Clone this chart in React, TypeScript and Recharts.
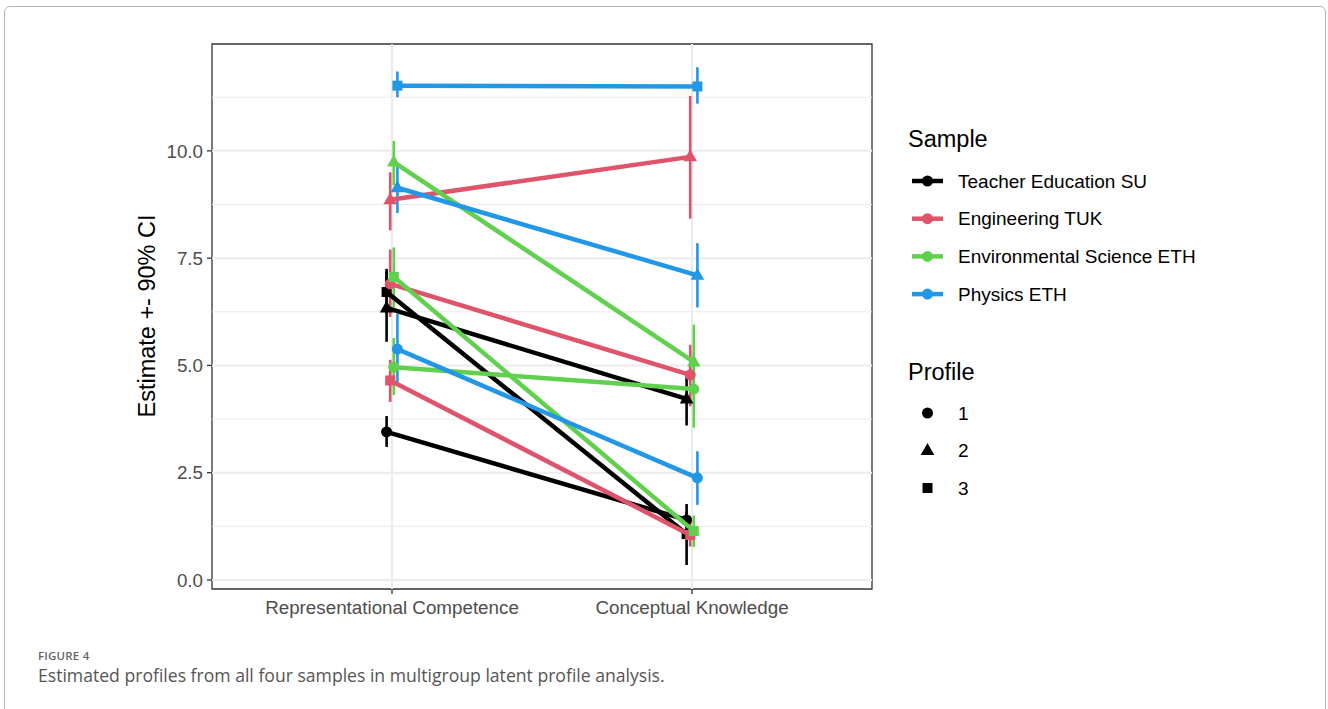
import React from 'react'
import { ComposedChart, Scatter, ErrorBar, XAxis, YAxis, ReferenceLine, ReferenceArea } from 'recharts'

// categories on the x axis, samples (colour) and profiles (shape)
const categories = ['Representational Competence', 'Conceptual Knowledge']
const sampleNames = ['Teacher Education SU', 'Engineering TUK', 'Environmental Science ETH', 'Physics ETH']
const profileLabels = ['1', '2', '3']
const yTicks = [0, 2.5, 5, 7.5, 10]
const yMinor = [1.25, 3.75, 6.25, 8.75, 11.25]

// rows = profile 1..3, columns = [Representational Competence, Conceptual Knowledge]
const teacherEst = [[3.45, 1.4], [6.34, 4.22], [6.71, 1.07]]
const teacherLow = [[3.1, 1.0], [5.55, 3.6], [6.2, 0.35]]
const teacherHigh = [[3.82, 1.77], [7.25, 4.85], [7.2, 1.6]]

const engineeringEst = [[6.9, 4.78], [8.86, 9.86], [4.65, 1.05]]
const engineeringLow = [[6.13, 4.05], [8.15, 8.42], [4.15, 0.78]]
const engineeringHigh = [[7.7, 5.48], [9.5, 11.28], [5.13, 1.38]]

const envScienceEst = [[4.96, 4.45], [9.74, 5.08], [7.06, 1.14]]
const envScienceLow = [[4.31, 3.55], [9.2, 4.3], [6.35, 0.77]]
const envScienceHigh = [[5.64, 5.3], [10.23, 5.95], [7.75, 1.5]]

const physicsEst = [[5.38, 2.38], [9.14, 7.1], [11.52, 11.5]]
const physicsLow = [[4.55, 1.75], [8.55, 6.35], [11.25, 11.1]]
const physicsHigh = [[6.2, 3.0], [9.72, 7.85], [11.85, 11.95]]

const colors = ['#000000', '#DF536B', '#61D04F', '#2297E6']
const dodge = [-0.018, -0.006, 0.006, 0.018]

const sampleEst = [teacherEst, engineeringEst, envScienceEst, physicsEst]
const sampleLow = [teacherLow, engineeringLow, envScienceLow, physicsLow]
const sampleHigh = [teacherHigh, engineeringHigh, envScienceHigh, physicsHigh]

const FONT = '"Liberation Sans", Arial, Helvetica, sans-serif'

function marker(profile: number, cx: number, cy: number, fill: string) {
  if (profile === 0) return <circle cx={cx} cy={cy} r={5.5} fill={fill} />
  if (profile === 1)
    return <polygon points={`${cx},${cy - 7.5} ${cx - 6.8},${cy + 4.5} ${cx + 6.8},${cy + 4.5}`} fill={fill} />
  return <rect x={cx - 5} y={cy - 5} width={10} height={10} fill={fill} />
}

const series = sampleNames.flatMap((name, s) =>
  profileLabels.map((p, k) => ({
    key: `${name}-${p}`,
    color: colors[s],
    profile: k,
    data: categories.map((c, i) => {
      const est = sampleEst[s][k][i]
      return {
        x: i + 1 + dodge[s],
        y: est,
        err: [est - sampleLow[s][k][i], sampleHigh[s][k][i] - est],
      }
    }),
  }))
)

export default function App() {
  return (
    <div style={{ position: 'absolute', left: 0, top: 0, width: 1328, height: 709, background: '#fff', overflow: 'hidden' }}>
      <div
        style={{
          position: 'absolute', left: 4, top: 6, width: 1322, height: 740,
          border: '1.5px solid #b5b5b5', borderRadius: 6, boxSizing: 'border-box',
        }}
      />
      <ComposedChart width={1328} height={709} margin={{ top: 44, right: 456, bottom: 90, left: 152 }}>
        {yMinor.map((v) => (
          <ReferenceLine key={`mn${v}`} y={v} stroke="#EBEBEB" strokeWidth={1} />
        ))}
        {yTicks.map((v) => (
          <ReferenceLine key={`mj${v}`} y={v} stroke="#EBEBEB" strokeWidth={2} />
        ))}
        {[1, 2].map((v) => (
          <ReferenceLine key={`vx${v}`} x={v} stroke="#EBEBEB" strokeWidth={2} />
        ))}
        <XAxis
          type="number"
          dataKey="x"
          domain={[0.4, 2.6]}
          ticks={[1, 2]}
          allowDataOverflow
          height={30}
          tickFormatter={(v: number) => categories[Math.round(v) - 1]}
          axisLine={false}
          tickLine={{ stroke: '#333', strokeWidth: 1.3 }}
          tickSize={5}
          tickMargin={7}
          tick={{ fill: '#4D4D4D', fontSize: 18.8, fontFamily: FONT }}
        />
        <YAxis
          type="number"
          dataKey="y"
          domain={[-0.21, 12.49]}
          ticks={yTicks}
          allowDataOverflow
          width={60}
          tickFormatter={(v: number) => v.toFixed(1)}
          axisLine={false}
          tickLine={{ stroke: '#333', strokeWidth: 1.3 }}
          tickSize={5}
          tickMargin={4}
          tick={{ fill: '#4D4D4D', fontSize: 18.8, fontFamily: FONT }}
        />
        {series.map((sr) => (
          <Scatter
            key={sr.key}
            data={sr.data}
            fill={sr.color}
            line={{ stroke: sr.color, strokeWidth: 4.5 }}
            isAnimationActive={false}
            shape={(props: any) => marker(sr.profile, props.cx, props.cy, sr.color)}
          >
            <ErrorBar dataKey="err" direction="y" width={0} stroke={sr.color} strokeWidth={2.6} isAnimationActive={false} />
          </Scatter>
        ))}
        <ReferenceArea x1={0.4} x2={2.6} y1={-0.21} y2={12.49} fill="none" stroke="#333" strokeWidth={1.3} ifOverflow="visible" />
      </ComposedChart>

      <div
        style={{
          position: 'absolute', left: 147, top: 316, transform: 'translate(-50%, -50%) rotate(-90deg)',
          fontFamily: FONT, fontSize: 23.5, color: '#000', whiteSpace: 'nowrap',
        }}
      >
        Estimate +- 90% CI
      </div>

      <svg style={{ position: 'absolute', left: 0, top: 0 }} width={1328} height={709}>
        <text x={908} y={147} fontFamily={FONT} fontSize={23.5} fill="#000">Sample</text>
        {sampleNames.map((n, i) => {
          const y = 181 + i * 37.7
          return (
            <g key={n}>
              <line x1={912} x2={943} y1={y} y2={y} stroke={colors[i]} strokeWidth={4.5} />
              <circle cx={927.5} cy={y} r={5.5} fill={colors[i]} />
              <text x={958} y={y + 6.5} fontFamily={FONT} fontSize={19} fill="#000">{n}</text>
            </g>
          )
        })}
        <text x={908} y={380} fontFamily={FONT} fontSize={23.5} fill="#000">Profile</text>
        {profileLabels.map((p, k) => {
          const y = 413 + k * 37.5
          return (
            <g key={p}>
              {marker(k, 927.5, y, '#000')}
              <text x={958} y={y + 6.5} fontFamily={FONT} fontSize={19} fill="#000">{p}</text>
            </g>
          )
        })}
      </svg>

      <div style={{ position: 'absolute', left: 38, top: 648, fontFamily: '"Open Sans", sans-serif', fontSize: 11.5, fontWeight: 600, color: '#666', letterSpacing: 0.2 }}>
        FIGURE 4
      </div>
      <div style={{ position: 'absolute', left: 38, top: 663, fontFamily: '"Open Sans", sans-serif', fontSize: 17.6, color: '#555' }}>
        Estimated profiles from all four samples in multigroup latent profile analysis.
      </div>
    </div>
  )
}
